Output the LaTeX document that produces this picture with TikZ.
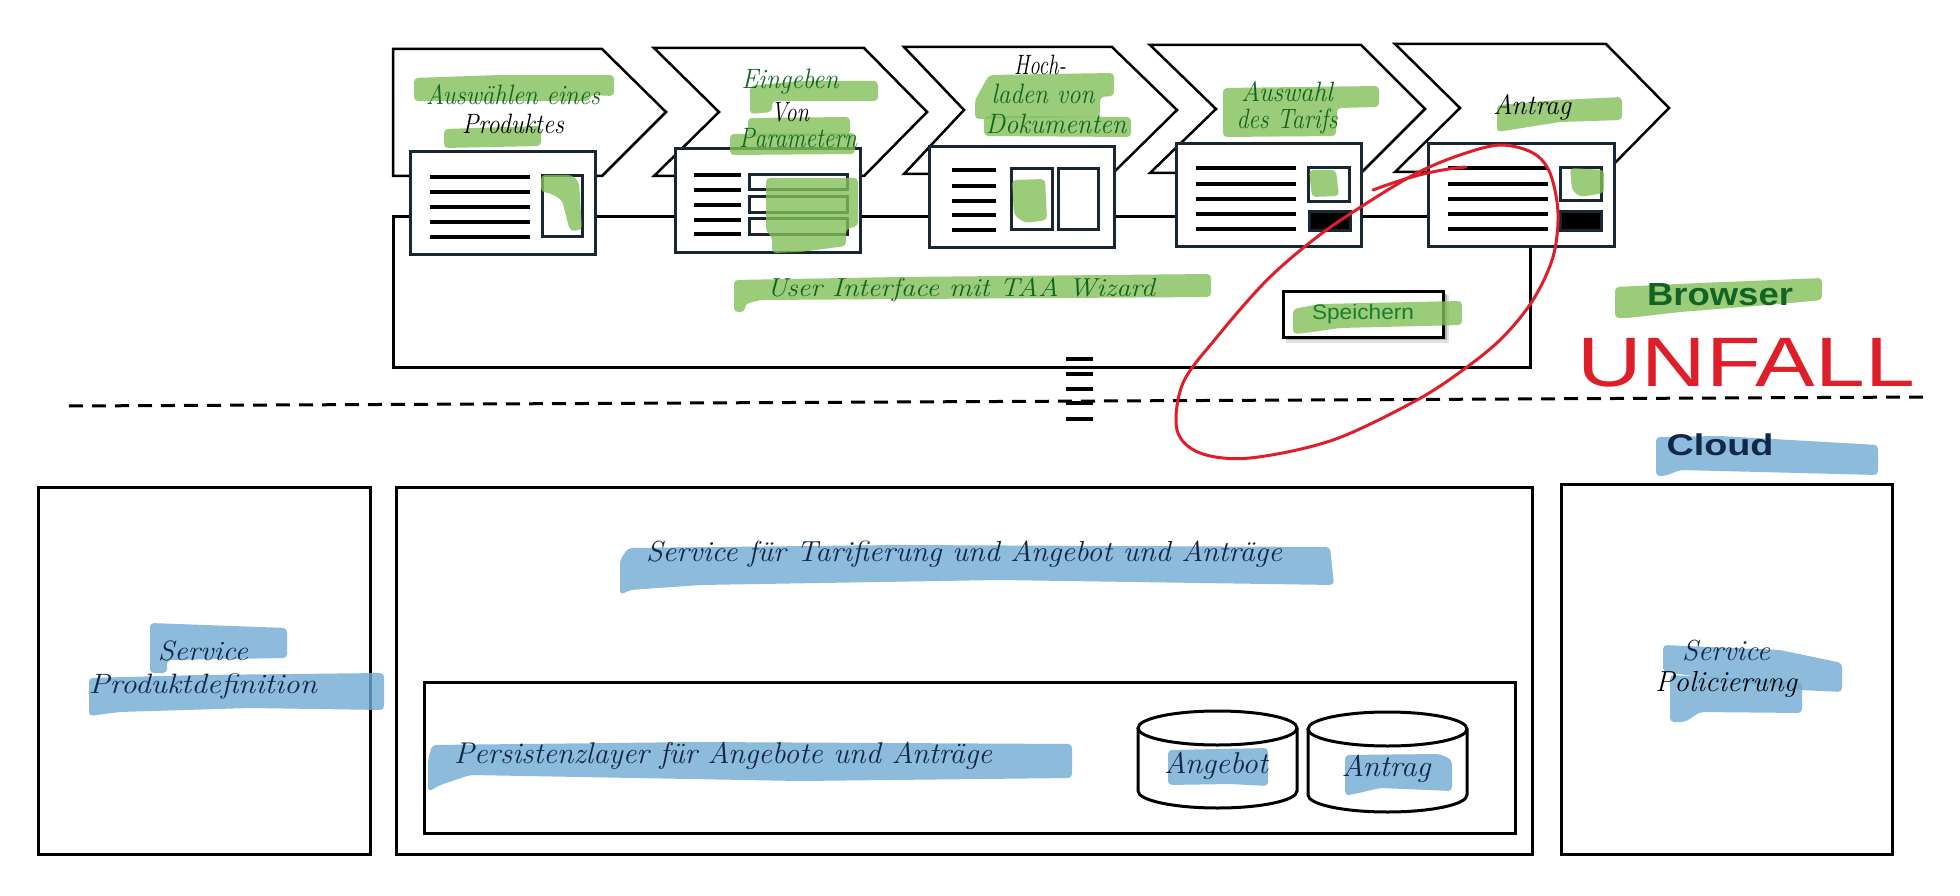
\documentclass[tikz,border=0pt]{standalone}
\usepackage{fontspec}
\usepackage{graphicx}
\newfontfamily\arialf{Liberation Sans}
\definecolor{hlgreen}{RGB}{130,192,88}
\definecolor{hlblue}{RGB}{112,170,212}
\definecolor{dkgreen}{RGB}{18,100,35}
\definecolor{txgreen}{RGB}{25,125,45}
\definecolor{navy}{RGB}{18,38,72}
\definecolor{cardline}{RGB}{25,38,52}
\definecolor{pen}{RGB}{222,30,40}
\newcommand\fw[2]{\resizebox{#1}{\height}{#2}}
\newcommand\hand[1]{\fontsize{#1}{#1}\selectfont\itshape\addfontfeatures{FakeBold=1.2}}
\newcommand\sansf[1]{\arialf\fontsize{#1}{#1}\selectfont}
\begin{document}
\begin{tikzpicture}[x=1pt,y=-1pt,
  chev/.style={draw=black, line width=2.5pt, fill=white, line join=miter},
  card/.style={draw=cardline, line width=3pt, fill=white, inner sep=0pt},
  frame/.style={draw=black, line width=3pt, inner sep=0pt},
  bar/.style={draw=black, line width=3.5pt},
  fieldbox/.style={draw=cardline, line width=3pt},
  hlG/.style={fill=hlgreen, fill opacity=0.8, rounded corners=4pt},
  hlB/.style={fill=hlblue, fill opacity=0.8, rounded corners=4pt},
  lbl/.style={inner sep=0pt, anchor=center},
  penline/.style={draw=pen, line width=3pt, line cap=round, line join=round}]
\useasboundingbox (0,0) rectangle (1960,896);
\fill[white] (0,0) rectangle (1960,896);

% chevrons
\draw[chev] (393,49) -- (602,49) -- (666,112) -- (602,176) -- (393,176) -- cycle;
\draw[chev] (654,48) -- (864,48) -- (927,112) -- (864,176) -- (654,176) -- (719,112) -- cycle;
\draw[chev] (904,47) -- (1112,47) -- (1177,110) -- (1112,174) -- (904,174) -- (964,110) -- cycle;
\draw[chev] (1150,45) -- (1361,45) -- (1425,109) -- (1361,173) -- (1150,173) -- (1216,109) -- cycle;
\draw[chev] (1395,44) -- (1606,44) -- (1669,108) -- (1606,172) -- (1395,172) -- (1460,108) -- cycle;

% UI box
\node[frame, minimum width=1137pt, minimum height=150pt] (ui) at (961.5,292) {};

% cards
\node[card, minimum width=185pt, minimum height=103pt] (c1) at (502.5,203.5) {};
\node[card, minimum width=185pt, minimum height=104pt] (c2) at (767.5,201) {};
\node[card, minimum width=185pt, minimum height=101pt] (c3) at (1021.5,197.5) {};
\node[card, minimum width=185pt, minimum height=103pt] (c4) at (1268.5,195.5) {};
\node[card, minimum width=186pt, minimum height=103pt] (c5) at (1521,195.5) {};

\foreach \y in {177,192,207,222,237} \draw[bar] (430,\y) -- (530,\y);
\draw[fieldbox] (542,176) rectangle (582,237);
\foreach \y in {175,190,205,220,234} \draw[bar] (694,\y) -- (741,\y);
\draw[fieldbox] (749,175) rectangle (847,190);
\draw[fieldbox] (749,197) rectangle (847,213);
\draw[fieldbox] (749,219) rectangle (847,235);
\foreach \y in {170,186,201,215,230} \draw[bar] (952,\y) -- (996,\y);
\draw[fieldbox] (1011,169) rectangle (1052,230);
\draw[fieldbox] (1058,169) rectangle (1098,230);
\foreach \y in {168,184,199,214,229} \draw[bar] (1196,\y) -- (1296,\y);
\draw[fieldbox] (1308,168) rectangle (1349,202);
\draw[fieldbox, fill=black] (1309,212) rectangle (1350,231);
\foreach \y in {168,184,199,214,229} \draw[bar] (1448,\y) -- (1548,\y);
\draw[fieldbox] (1560,168) rectangle (1601,201);
\draw[fieldbox, fill=black] (1560,212) rectangle (1601,231);

% Speichern button with shadow
\fill[black, opacity=0.12] (1286,295) rectangle (1449,343);
\fill[black, opacity=0.2] (1286,294) rectangle (1447,340);
\node[frame, fill=white, minimum width=160pt, minimum height=46pt] (save) at (1363,314) {};

% dashed separator and bars
\coordinate (sepL) at (69,406);
\coordinate (sepR) at (1924,397);
\draw[black, line width=3pt, dash pattern=on 14pt off 9pt] (sepL) -- (sepR);
\foreach \y in {359,374,389,403,419} \draw[bar] (1066,\y) -- (1093,\y);

% bottom boxes
\node[frame, minimum width=332pt, minimum height=367pt] (prod) at (204,670.5) {};
\node[frame, minimum width=1136pt, minimum height=367pt] (tarif) at (964,670.5) {};
\node[frame, minimum width=1091pt, minimum height=151pt] (pers) at (969.5,757.5) {};
\node[frame, minimum width=331pt, minimum height=370pt] (pol) at (1726.5,669) {};

% cylinders
\draw[frame, fill=white] (1138,728) -- (1138,791) arc[start angle=180, end angle=0, x radius=79.5, y radius=17] -- (1297,728);
\draw[frame] (1217.5,728) ellipse [x radius=79.5, y radius=17];
\draw[frame, fill=white] (1308,729) -- (1308,795) arc[start angle=180, end angle=0, x radius=79.5, y radius=17] -- (1467,729);
\draw[frame] (1387.5,729) ellipse [x radius=79.5, y radius=17];

% green highlights
\path[hlG] (414,78) -- (500,75) -- (614,75) -- (614,96) -- (590,95) -- (590,101) -- (414,101) -- cycle;
\path[hlG] (444,129) -- (541,126) -- (541,146) -- (444,148) -- cycle;
\path[hlG] (750,86) -- (800,81) -- (878,81) -- (878,101) -- (772,101) -- (772,112) -- (750,114) -- cycle;
\path[hlG] (748,118) -- (850,117) -- (850,135) -- (748,137) -- cycle;
\path[hlG] (730,134) -- (855,133) -- (855,154) -- (730,155) -- cycle;
\path[hlG] (541,175) -- (572,175) -- (579,182) -- (582,230) -- (570,231) -- (562,200) -- (550,193) -- (541,192) -- cycle;
\path[hlG] (766,178) -- (858,178) -- (858,226) -- (846,229) -- (846,246) -- (800,252) -- (772,253) -- (772,236) -- (766,232) -- cycle;
\path[hlG] (734,280) -- (900,277) -- (1211,274) -- (1211,297) -- (760,300) -- (745,304) -- (745,312) -- (734,312) -- cycle;
\path[hlG] (989,75) -- (1114,73) -- (1114,96) -- (1100,97) -- (1100,117) -- (975,119) -- (975,100) -- cycle;
\path[hlG] (984,116) -- (1131,117) -- (1131,137) -- (984,136) -- cycle;
\path[hlG] (1012,180) -- (1045,179) -- (1047,220) -- (1025,223) -- (1014,215) -- cycle;
\path[hlG] (1223,88) -- (1379,86) -- (1379,107) -- (1337,108) -- (1336,136) -- (1223,137) -- cycle;
\path[hlG] (1309,170) -- (1336,170) -- (1339,196) -- (1312,197) -- cycle;
\path[hlG] (1497,105) -- (1560,100) -- (1622,97) -- (1622,120) -- (1560,122) -- (1497,132) -- cycle;
\path[hlG] (1570,168) -- (1604,170) -- (1604,193) -- (1580,197) -- (1572,190) -- cycle;
\path[hlG] (1293,309) -- (1320,304) -- (1462,301) -- (1462,325) -- (1340,328) -- (1305,333) -- (1293,334) -- cycle;
\path[hlG] (1615,287) -- (1700,283) -- (1822,278) -- (1822,300) -- (1780,304) -- (1680,312) -- (1628,318) -- (1615,318) -- cycle;

% blue highlights
\path[hlB] (1656,437) -- (1720,436) -- (1878,445) -- (1878,475) -- (1760,472) -- (1680,470) -- (1665,476) -- (1656,476) -- cycle;
\path[hlB] (628,548) -- (900,545) -- (1330,547) -- (1334,585) -- (1000,580) -- (700,585) -- (630,590) -- (620,595) -- (620,560) -- cycle;
\path[hlB] (150,623) -- (287,628) -- (287,658) -- (167,660) -- (167,673) -- (150,673) -- cycle;
\path[hlB] (89,678) -- (200,675) -- (384,673) -- (384,710) -- (250,708) -- (120,712) -- (89,716) -- cycle;
\path[hlB] (432,745) -- (700,742) -- (1072,744) -- (1072,778) -- (800,781) -- (470,775) -- (440,785) -- (428,792) -- (428,760) -- cycle;
\path[hlB] (1168,750) -- (1268,748) -- (1268,786) -- (1230,784) -- (1168,785) -- cycle;
\path[hlB] (1345,755) -- (1440,754) -- (1452,760) -- (1452,791) -- (1380,788) -- (1350,795) -- (1345,795) -- cycle;
\path[hlB] (1663,645) -- (1780,650) -- (1842,663) -- (1842,692) -- (1800,690) -- (1663,672) -- cycle;
\path[hlB] (1670,675) -- (1802,682) -- (1802,713) -- (1700,712) -- (1685,722) -- (1670,722) -- cycle;

% texts
\node[lbl, text=dkgreen, font=\hand{28}] (t1) at (513,95) {\fw{174pt}{Auswählen eines}};
\node[lbl, text=black, font=\hand{28}] (t2) at (513,124) {\fw{102pt}{Produktes}};
\node[lbl, text=dkgreen, font=\hand{28}] (t3) at (790,82) {\fw{97pt}{Eingeben}};
\node[lbl, text=black, font=\hand{28}] (t4) at (790,112) {\fw{38pt}{Von}};
\node[lbl, text=dkgreen, font=\hand{28}] (t5) at (798,138) {\fw{118pt}{Parametern}};
\node[lbl, text=black, font=\hand{28}] (t6) at (1040,65) {\fw{52pt}{Hoch-}};
\node[lbl, text=dkgreen, font=\hand{28}] (t7) at (1043,94) {\fw{103pt}{laden von}};
\node[lbl, text=dkgreen, font=\hand{28}] (t8) at (1056,124) {\fw{141pt}{Dokumenten}};
\node[lbl, text=dkgreen, font=\hand{28}] (t9) at (1287,92) {\fw{92pt}{Auswahl}};
\node[lbl, text=dkgreen, font=\hand{28}] (t10) at (1287,122) {\fw{101pt}{des Tarifs}};
\node[lbl, text=black, font=\hand{28}] (t11) at (1532,107) {\fw{78pt}{Antrag}};
\node[lbl, text=dkgreen, font=\hand{26}] (t12) at (961,290) {\fw{388pt}{User Interface mit TAA Wizard}};
\node[lbl, text=txgreen, font=\sansf{21}] at (save.center) (t13) {\fw{102pt}{Speichern}};
\node[lbl, text=dkgreen, font=\sansf{32}\bfseries] (t14) at (1720,295) {\fw{146pt}{Browser}};
\node[lbl, text=navy, font=\sansf{30}\bfseries] (t16) at (1720,445) {\fw{107pt}{Cloud}};
\node[lbl, text=navy, font=\hand{28}] (t17) at (203,651) {\fw{90pt}{Service}};
\node[lbl, text=navy, font=\hand{28}] (t18) at (203,686) {\fw{228pt}{Produktdefinition}};
\node[lbl, text=navy, font=\hand{29}] (t19) at (964,554) {\fw{636pt}{Service für Tarifierung und Angebot und Anträge}};
\node[lbl, text=navy, font=\hand{30}] (t20) at (723,756) {\fw{538pt}{Persistenzlayer für Angebote und Anträge}};
\node[lbl, text=navy, font=\hand{30}] (t21) at (1216,766) {\fw{104pt}{Angebot}};
\node[lbl, text=navy, font=\hand{30}] (t22) at (1386,769) {\fw{89pt}{Antrag}};
\node[lbl, text=navy, font=\hand{29}] (t23) at (1726,651) {\fw{88pt}{Service}};
\node[lbl, text=black, font=\hand{29}] (t24) at (1726,684) {\fw{142pt}{Policierung}};

% red annotation
\draw[penline] plot[smooth cycle, tension=0.55] coordinates {(1500,145) (1533,153) (1550,173) (1558,213) (1553,257) (1533,300) (1503,337) (1467,367) (1417,400) (1333,440) (1250,458) (1200,453) (1177,430) (1183,383) (1217,337) (1267,280) (1317,237) (1367,203) (1417,173) (1460,155)};
\coordinate (tailA) at (1373,190);
\coordinate (tailB) at (1466,167);
\draw[penline] (tailA) .. controls (1400,180) and (1430,170) .. (tailB);
\node[lbl, text=pen, font=\sansf{70}] (t15) at (1746,363) {\fw{338pt}{UNFALL}};
\end{tikzpicture}
\end{document}
